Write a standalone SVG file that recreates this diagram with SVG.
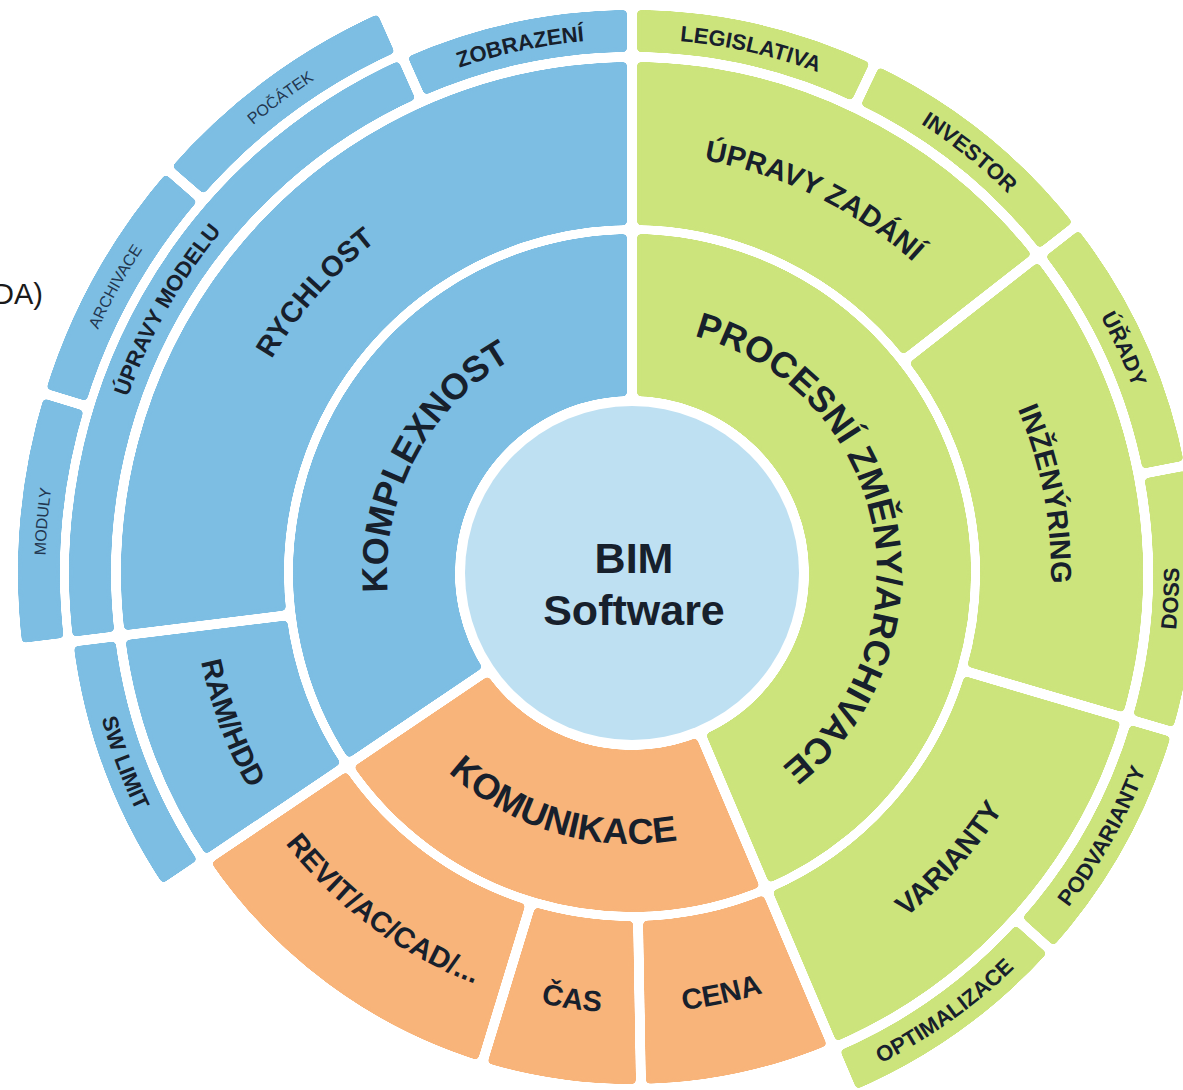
<svg xmlns="http://www.w3.org/2000/svg" xmlns:xlink="http://www.w3.org/1999/xlink" width="1183" height="1090" viewBox="0 0 1183 1090">
<style>
.seg{fill:none}
.b{stroke:#7DBEE3}
.g{stroke:#CCE47C}
.o{stroke:#F8B47A}
.r1{stroke-width:162}
.r2{stroke-width:163}
.r3{stroke-width:42}
.r4{stroke-width:42}
.gl{stroke:#000000;stroke-width:10}
text{font-family:"Liberation Sans",Arial,Helvetica,sans-serif;fill:#17202C}
.t1{font-size:36px;font-weight:bold}
.t2{font-size:29px;font-weight:bold}
.t3{font-size:22px;font-weight:bold}
.t4{font-size:16px;fill:#22364F}
</style>
<defs>
<filter id="rnd" filterUnits="userSpaceOnUse" x="-20" y="-20" width="1223" height="1130" color-interpolation-filters="sRGB">
<feGaussianBlur stdDeviation="2.2"/>
<feComponentTransfer><feFuncA type="linear" slope="12" intercept="-5.5"/></feComponentTransfer>
</filter>
<mask id="gm" maskUnits="userSpaceOnUse" x="-100" y="-100" width="1400" height="1300">
<rect x="-100" y="-100" width="1400" height="1300" fill="#FFFFFF"/>
<line class="gl" x1="632" y1="406" x2="632" y2="-60" transform="rotate(0 632 573)"/>
<line class="gl" x1="632" y1="406" x2="632" y2="-60" transform="rotate(157 632 573)"/>
<line class="gl" x1="632" y1="406" x2="632" y2="-60" transform="rotate(236 632 573)"/>
<line class="gl" x1="632" y1="232" x2="632" y2="-60" transform="rotate(52 632 573)"/>
<line class="gl" x1="632" y1="232" x2="632" y2="-60" transform="rotate(106.4 632 573)"/>
<line class="gl" x1="632" y1="232" x2="632" y2="50" transform="rotate(179 632 573)"/>
<line class="gl" x1="632" y1="232" x2="632" y2="50" transform="rotate(197 632 573)"/>
<line class="gl" x1="632" y1="232" x2="632" y2="-60" transform="rotate(263 632 573)"/>
<line class="gl" x1="632" y1="60" x2="632" y2="-60" transform="rotate(25.5 632 573)"/>
<line class="gl" x1="632" y1="60" x2="632" y2="-60" transform="rotate(79 632 573)"/>
<line class="gl" x1="632" y1="60" x2="632" y2="-60" transform="rotate(132 632 573)"/>
<line class="gl" x1="632" y1="60" x2="632" y2="-60" transform="rotate(336 632 573)"/>
<line class="gl" x1="632" y1="5" x2="632" y2="-60" transform="rotate(287 632 573)"/>
<line class="gl" x1="632" y1="5" x2="632" y2="-60" transform="rotate(311 632 573)"/>
</mask>
<path id="r1cw" d="M 387 573 A 245 245 0 0 1 877 573"/>
<path id="r1ccw" d="M 361 573 A 271 271 0 0 0 903 573"/>
<path id="r2cw" d="M 213 573 A 419 419 0 0 1 1051 573"/>
<path id="r2ccw" d="M 192 573 A 440 440 0 0 0 1072 573"/>
<path id="r3cw" d="M 98 573 A 534 534 0 0 1 1166 573"/>
<path id="r3ccw" d="M 82 573 A 550 550 0 0 0 1182 573"/>
<path id="r3ccwd" d="M 85 573 A 547 547 0 0 0 1179 573"/>
<path id="r4cw" d="M 45 573 A 587 587 0 0 1 1219 573"/>
</defs>
<rect width="1183" height="1090" fill="#FFFFFF"/>
<text x="43" y="304" style="font-size:29px;fill:#1A1A1A" text-anchor="end">DA)</text>

<g id="procesni-zmeny">
<g filter="url(#rnd)"><g mask="url(#gm)"><circle class="seg g r1" cx="632" cy="573" r="258" pathLength="360" stroke-dasharray="157 360" transform="rotate(-90 632 573)"/></g></g>
<text class="t1" transform="rotate(78.5 632 573)"><textPath xlink:href="#r1cw" href="#r1cw" startOffset="50%" text-anchor="middle">PROCESNÍ ZMĚNY/ARCHIVACE</textPath></text>
</g>
<g id="komunikace">
<g filter="url(#rnd)"><g mask="url(#gm)"><circle class="seg o r1" cx="632" cy="573" r="258" pathLength="360" stroke-dasharray="79 360" transform="rotate(67 632 573)"/></g></g>
<text class="t1" transform="rotate(16.5 632 573)"><textPath xlink:href="#r1ccw" href="#r1ccw" startOffset="50%" text-anchor="middle">KOMUNIKACE</textPath></text>
</g>
<g id="komplexnost">
<g filter="url(#rnd)"><g mask="url(#gm)"><circle class="seg b r1" cx="632" cy="573" r="258" pathLength="360" stroke-dasharray="124 360" transform="rotate(146 632 573)"/></g></g>
<text class="t1" transform="rotate(298 632 573)"><textPath xlink:href="#r1cw" href="#r1cw" startOffset="50%" text-anchor="middle">KOMPLEXNOST</textPath></text>
</g>

<g id="upravy-zadani">
<g filter="url(#rnd)"><g mask="url(#gm)"><circle class="seg g r2" cx="632" cy="573" r="429.5" pathLength="360" stroke-dasharray="52 360" transform="rotate(-90 632 573)"/></g></g>
<text class="t2" transform="rotate(26 632 573)"><textPath xlink:href="#r2cw" href="#r2cw" startOffset="50%" text-anchor="middle">ÚPRAVY ZADÁNÍ</textPath></text>
</g>
<g id="inzenyring">
<g filter="url(#rnd)"><g mask="url(#gm)"><circle class="seg g r2" cx="632" cy="573" r="429.5" pathLength="360" stroke-dasharray="54.4 360" transform="rotate(-38 632 573)"/></g></g>
<text class="t2" transform="rotate(79.2 632 573)"><textPath xlink:href="#r2cw" href="#r2cw" startOffset="50%" text-anchor="middle">INŽENÝRING</textPath></text>
</g>
<g id="varianty">
<g filter="url(#rnd)"><g mask="url(#gm)"><circle class="seg g r2" cx="632" cy="573" r="429.5" pathLength="360" stroke-dasharray="50.6 360" transform="rotate(16.4 632 573)"/></g></g>
<text class="t2" transform="rotate(-48 632 573)"><textPath xlink:href="#r2ccw" href="#r2ccw" startOffset="50%" text-anchor="middle">VARIANTY</textPath></text>
</g>
<g id="cena">
<g filter="url(#rnd)"><g mask="url(#gm)"><circle class="seg o r2" cx="632" cy="573" r="429.5" pathLength="360" stroke-dasharray="22 360" transform="rotate(67 632 573)"/></g></g>
<text class="t2" transform="rotate(-12 632 573)"><textPath xlink:href="#r2ccw" href="#r2ccw" startOffset="50%" text-anchor="middle">CENA</textPath></text>
</g>
<g id="cas">
<g filter="url(#rnd)"><g mask="url(#gm)"><circle class="seg o r2" cx="632" cy="573" r="429.5" pathLength="360" stroke-dasharray="18 360" transform="rotate(89 632 573)"/></g></g>
<text class="t2" transform="rotate(8 632 573)"><textPath xlink:href="#r2ccw" href="#r2ccw" startOffset="50%" text-anchor="middle">ČAS</textPath></text>
</g>
<g id="revit">
<g filter="url(#rnd)"><g mask="url(#gm)"><circle class="seg o r2" cx="632" cy="573" r="429.5" pathLength="360" stroke-dasharray="39 360" transform="rotate(107 632 573)"/></g></g>
<text class="t2" transform="rotate(36.5 632 573)"><textPath xlink:href="#r2ccw" href="#r2ccw" startOffset="50%" text-anchor="middle">REVIT/AC/CAD/...</textPath></text>
</g>
<g id="ram-hdd">
<g filter="url(#rnd)"><g mask="url(#gm)"><circle class="seg b r2" cx="632" cy="573" r="429.5" pathLength="360" stroke-dasharray="27 360" transform="rotate(146 632 573)"/></g></g>
<text class="t2" transform="rotate(69.5 632 573)"><textPath xlink:href="#r2ccw" href="#r2ccw" startOffset="50%" text-anchor="middle">RAM/HDD</textPath></text>
</g>
<g id="rychlost">
<g filter="url(#rnd)"><g mask="url(#gm)"><circle class="seg b r2" cx="632" cy="573" r="429.5" pathLength="360" stroke-dasharray="97 360" transform="rotate(173 632 573)"/></g></g>
<text class="t2" transform="rotate(311.5 632 573)"><textPath xlink:href="#r2cw" href="#r2cw" startOffset="50%" text-anchor="middle">RYCHLOST</textPath></text>
</g>

<g id="legislativa">
<g filter="url(#rnd)"><g mask="url(#gm)"><circle class="seg g r3" cx="632" cy="573" r="542" pathLength="360" stroke-dasharray="25.5 360" transform="rotate(-90 632 573)"/></g></g>
<text class="t3" transform="rotate(12.75 632 573)"><textPath xlink:href="#r3cw" href="#r3cw" startOffset="50%" text-anchor="middle">LEGISLATIVA</textPath></text>
</g>
<g id="investor">
<g filter="url(#rnd)"><g mask="url(#gm)"><circle class="seg g r3" cx="632" cy="573" r="542" pathLength="360" stroke-dasharray="26.5 360" transform="rotate(-64.5 632 573)"/></g></g>
<text class="t3" transform="rotate(38.75 632 573)"><textPath xlink:href="#r3cw" href="#r3cw" startOffset="50%" text-anchor="middle">INVESTOR</textPath></text>
</g>
<g id="urady">
<g filter="url(#rnd)"><g mask="url(#gm)"><circle class="seg g r3" cx="632" cy="573" r="542" pathLength="360" stroke-dasharray="27 360" transform="rotate(-38 632 573)"/></g></g>
<text class="t3" transform="rotate(65.5 632 573)"><textPath xlink:href="#r3cw" href="#r3cw" startOffset="50%" text-anchor="middle">ÚŘADY</textPath></text>
</g>
<g id="doss">
<g filter="url(#rnd)"><g mask="url(#gm)"><circle class="seg g r3" cx="632" cy="573" r="542" pathLength="360" stroke-dasharray="27.4 360" transform="rotate(-11 632 573)"/></g></g>
<text class="t3" transform="rotate(-87.3 632 573)"><textPath xlink:href="#r3ccwd" href="#r3ccwd" startOffset="50%" text-anchor="middle">DOSS</textPath></text>
</g>
<g id="podvarianty">
<g filter="url(#rnd)"><g mask="url(#gm)"><circle class="seg g r3" cx="632" cy="573" r="542" pathLength="360" stroke-dasharray="25.6 360" transform="rotate(16.4 632 573)"/></g></g>
<text class="t3" transform="rotate(-60.8 632 573)"><textPath xlink:href="#r3ccw" href="#r3ccw" startOffset="50%" text-anchor="middle">PODVARIANTY</textPath></text>
</g>
<g id="optimalizace">
<g filter="url(#rnd)"><g mask="url(#gm)"><circle class="seg g r3" cx="632" cy="573" r="542" pathLength="360" stroke-dasharray="25 360" transform="rotate(42 632 573)"/></g></g>
<text class="t3" transform="rotate(-35.5 632 573)"><textPath xlink:href="#r3ccw" href="#r3ccw" startOffset="50%" text-anchor="middle">OPTIMALIZACE</textPath></text>
</g>
<g id="sw-limit">
<g filter="url(#rnd)"><g mask="url(#gm)"><circle class="seg b r3" cx="632" cy="573" r="542" pathLength="360" stroke-dasharray="27 360" transform="rotate(146 632 573)"/></g></g>
<text class="t3" transform="rotate(69.5 632 573)"><textPath xlink:href="#r3ccw" href="#r3ccw" startOffset="50%" text-anchor="middle">SW LIMIT</textPath></text>
</g>
<g id="upravy-modelu">
<g filter="url(#rnd)"><g mask="url(#gm)"><circle class="seg b r3" cx="632" cy="573" r="542" pathLength="360" stroke-dasharray="73 360" transform="rotate(173 632 573)"/></g></g>
<text class="t3" transform="rotate(299.5 632 573)"><textPath xlink:href="#r3cw" href="#r3cw" startOffset="50%" text-anchor="middle">ÚPRAVY MODELU</textPath></text>
</g>
<g id="zobrazeni">
<g filter="url(#rnd)"><g mask="url(#gm)"><circle class="seg b r3" cx="632" cy="573" r="542" pathLength="360" stroke-dasharray="24 360" transform="rotate(246 632 573)"/></g></g>
<text class="t3" transform="rotate(348 632 573)"><textPath xlink:href="#r3cw" href="#r3cw" startOffset="50%" text-anchor="middle">ZOBRAZENÍ</textPath></text>
</g>

<g id="moduly">
<g filter="url(#rnd)"><g mask="url(#gm)"><circle class="seg b r4" cx="632" cy="573" r="593" pathLength="360" stroke-dasharray="24 360" transform="rotate(173 632 573)"/></g></g>
<text class="t4" transform="rotate(275 632 573)"><textPath xlink:href="#r4cw" href="#r4cw" startOffset="50%" text-anchor="middle">MODULY</textPath></text>
</g>
<g id="archivace">
<g filter="url(#rnd)"><g mask="url(#gm)"><circle class="seg b r4" cx="632" cy="573" r="593" pathLength="360" stroke-dasharray="24 360" transform="rotate(197 632 573)"/></g></g>
<text class="t4" transform="rotate(299 632 573)"><textPath xlink:href="#r4cw" href="#r4cw" startOffset="50%" text-anchor="middle">ARCHIVACE</textPath></text>
</g>
<g id="pocatek">
<g filter="url(#rnd)"><g mask="url(#gm)"><circle class="seg b r4" cx="632" cy="573" r="593" pathLength="360" stroke-dasharray="25 360" transform="rotate(221 632 573)"/></g></g>
<text class="t4" transform="rotate(323.5 632 573)"><textPath xlink:href="#r4cw" href="#r4cw" startOffset="50%" text-anchor="middle">POČÁTEK</textPath></text>
</g>

<g id="center">
<circle cx="632" cy="573" r="167" fill="#BEE0F2"/>
<text x="634" y="573" text-anchor="middle" style="font-size:43px;font-weight:bold">BIM</text>
<text x="634" y="625" text-anchor="middle" style="font-size:43px;font-weight:bold">Software</text>
</g>
</svg>
